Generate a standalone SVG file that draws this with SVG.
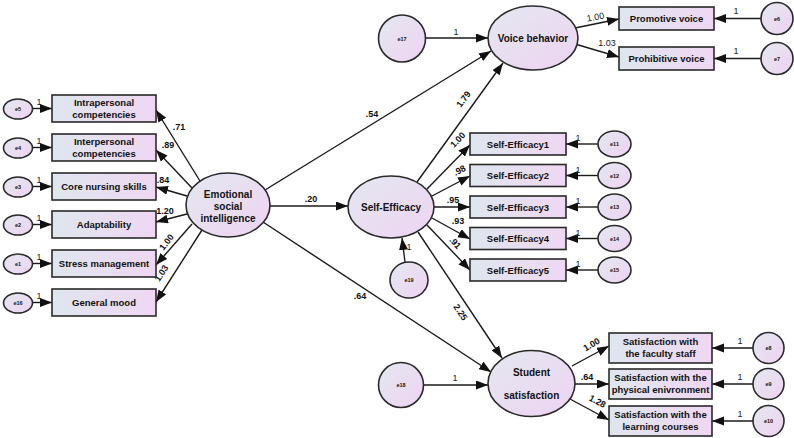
<svg xmlns="http://www.w3.org/2000/svg" width="794" height="438" viewBox="0 0 794 438">
<defs>
<linearGradient id="gb" x1="0" y1="0" x2="1" y2="0"><stop offset="0" stop-color="#dfe6ee"/><stop offset="1" stop-color="#efd7f3"/></linearGradient>
<linearGradient id="ge" x1="0" y1="0" x2="1" y2="1"><stop offset="0" stop-color="#e4e8f0"/><stop offset="1" stop-color="#eed3f2"/></linearGradient>
<marker id="ah" markerUnits="userSpaceOnUse" markerWidth="13" markerHeight="10" refX="12" refY="4.5" orient="auto"><path d="M0,0 L12,4.5 L0,9 z" fill="#111"/></marker>
<style>
.b{fill:url(#gb);stroke:#2a2a2a;stroke-width:1.6}
.e{fill:url(#ge);stroke:#2a2a2a;stroke-width:1.6}
.c line{stroke:#1a1a1a;stroke-width:1.4;marker-end:url(#ah)}
text{font-family:"Liberation Sans",Arial,sans-serif;fill:#111;text-anchor:middle}
.t{font-size:9.5px;font-weight:bold}
.L{font-size:10px;font-weight:bold}
.n{font-size:9px;font-weight:bold}
.o{font-size:9px;fill:#222}
.s{font-size:5.5px;font-weight:bold}
</style>
</defs>
<rect width="794" height="438" fill="#fff"/>
<g class="c" id="connectors">
<line x1="200" y1="181" x2="156" y2="110"/>
<line x1="192" y1="188" x2="156" y2="150"/>
<line x1="187" y1="196" x2="156" y2="187"/>
<line x1="187" y1="214" x2="156" y2="222"/>
<line x1="192" y1="224" x2="156" y2="265"/>
<line x1="202" y1="230" x2="156" y2="302"/>
<line x1="32" y1="108.5" x2="52" y2="108.5"/>
<line x1="32" y1="147.5" x2="52" y2="147.5"/>
<line x1="32" y1="186.5" x2="52" y2="186.5"/>
<line x1="32" y1="224.5" x2="52" y2="224.5"/>
<line x1="32" y1="263.5" x2="52" y2="263.5"/>
<line x1="32" y1="302.5" x2="52" y2="302.5"/>
<line x1="270" y1="206" x2="348" y2="206"/>
<line x1="265" y1="190" x2="491" y2="51"/>
<line x1="263" y1="222" x2="491" y2="372"/>
<line x1="417" y1="182" x2="503" y2="63"/>
<line x1="427" y1="189" x2="470" y2="145"/>
<line x1="432" y1="196" x2="470" y2="176"/>
<line x1="434" y1="207" x2="470" y2="207"/>
<line x1="432" y1="218" x2="470" y2="239"/>
<line x1="427" y1="225" x2="470" y2="270"/>
<line x1="418" y1="232" x2="502" y2="358"/>
<line x1="405" y1="262" x2="402" y2="238"/>
<line x1="598" y1="144" x2="566" y2="144"/>
<line x1="598" y1="175.5" x2="566" y2="175.5"/>
<line x1="598" y1="207" x2="566" y2="207"/>
<line x1="598" y1="238.5" x2="566" y2="238.5"/>
<line x1="598" y1="270" x2="566" y2="270"/>
<line x1="426" y1="38" x2="488" y2="38"/>
<line x1="575" y1="28" x2="619" y2="19"/>
<line x1="575" y1="44" x2="619" y2="57"/>
<line x1="761" y1="18.5" x2="714" y2="18.5"/>
<line x1="761" y1="58.5" x2="714" y2="58.5"/>
<line x1="424" y1="385" x2="488" y2="385"/>
<line x1="572" y1="366" x2="609" y2="346"/>
<line x1="575" y1="384" x2="609" y2="384"/>
<line x1="570" y1="399" x2="609" y2="420"/>
<line x1="753" y1="348" x2="712" y2="348"/>
<line x1="753" y1="384" x2="712" y2="384"/>
<line x1="753" y1="421" x2="712" y2="421"/>
</g>
<g id="path-labels">
<text class="n" x="179" y="130">.71</text>
<text class="n" x="168" y="148">.89</text>
<text class="n" x="163" y="183">.84</text>
<text class="n" x="165" y="214">1.20</text>
<text class="n" transform="translate(169,244) rotate(-52)">1.00</text>
<text class="n" transform="translate(164,275) rotate(-57)">1.03</text>
<text class="o" x="39" y="105">1</text>
<text class="o" x="39" y="144">1</text>
<text class="o" x="39" y="183">1</text>
<text class="o" x="39" y="221">1</text>
<text class="o" x="39" y="260">1</text>
<text class="o" x="39" y="299">1</text>
<text class="n" x="311" y="202">.20</text>
<text class="n" x="372" y="117">.54</text>
<text class="n" x="360" y="299">.64</text>
<text class="n" transform="translate(466,101) rotate(-54)">1.79</text>
<text class="n" transform="translate(460,142) rotate(-46)">1.00</text>
<text class="n" transform="translate(461,173) rotate(-28)">.98</text>
<text class="n" x="453" y="203">.95</text>
<text class="n" x="458" y="224">.93</text>
<text class="n" transform="translate(453,245) rotate(46)">.91</text>
<text class="n" transform="translate(458,314) rotate(56)">2.25</text>
<text class="o" x="409" y="250">1</text>
<text class="o" x="578" y="141">1</text>
<text class="o" x="578" y="172.5">1</text>
<text class="o" x="578" y="204">1</text>
<text class="o" x="578" y="235.5">1</text>
<text class="o" x="578" y="267">1</text>
<text class="o" x="456" y="35">1</text>
<text class="o" transform="translate(596,20) rotate(-10)">1.00</text>
<text class="o" x="607" y="46">1.03</text>
<text class="o" x="736" y="14">1</text>
<text class="o" x="736" y="54">1</text>
<text class="o" x="455" y="381">1</text>
<text class="n" transform="translate(593,347) rotate(-30)">1.00</text>
<text class="n" x="587" y="380">.64</text>
<text class="n" transform="translate(596,404) rotate(28)">1.28</text>
<text class="o" x="740" y="344">1</text>
<text class="o" x="740" y="380">1</text>
<text class="o" x="740" y="417">1</text>
</g>
<g id="n-intra"><rect class="b" x="52" y="95" width="104" height="27"/><text class="t" x="104" y="106">Intrapersonal</text><text class="t" x="104" y="117.5">competencies</text></g>
<g id="n-inter"><rect class="b" x="52" y="134" width="104" height="27"/><text class="t" x="104" y="145">Interpersonal</text><text class="t" x="104" y="156.5">competencies</text></g>
<g id="n-core"><rect class="b" x="52" y="173" width="104" height="27"/><text class="t" x="104" y="190">Core nursing skills</text></g>
<g id="n-adapt"><rect class="b" x="52" y="211" width="104" height="27"/><text class="t" x="104" y="228">Adaptability</text></g>
<g id="n-stress"><rect class="b" x="52" y="250" width="104" height="27"/><text class="t" x="104" y="267">Stress management</text></g>
<g id="n-mood"><rect class="b" x="52" y="289" width="104" height="27"/><text class="t" x="104" y="306">General mood</text></g>
<g id="n-e5"><ellipse class="e" cx="18" cy="109" rx="14.5" ry="10"/><text class="s" x="18" y="111">e5</text></g>
<g id="n-e4"><ellipse class="e" cx="18" cy="148" rx="14.5" ry="10"/><text class="s" x="18" y="150">e4</text></g>
<g id="n-e3"><ellipse class="e" cx="18" cy="187" rx="14.5" ry="10"/><text class="s" x="18" y="189">e3</text></g>
<g id="n-e2"><ellipse class="e" cx="18" cy="225" rx="14.5" ry="10"/><text class="s" x="18" y="227">e2</text></g>
<g id="n-e1"><ellipse class="e" cx="18" cy="264" rx="14.5" ry="10"/><text class="s" x="18" y="266">e1</text></g>
<g id="n-e16"><ellipse class="e" cx="18" cy="303" rx="14.5" ry="10"/><text class="s" x="18" y="305">e16</text></g>
<g id="n-esi"><ellipse class="e" cx="228" cy="205" rx="42" ry="32"/><text class="L" x="228" y="198">Emotional</text><text class="L" x="228" y="210">social</text><text class="L" x="228" y="222">intelligence</text></g>
<g id="n-se"><ellipse class="e" cx="391" cy="207" rx="43" ry="31"/><text class="L" x="391" y="211">Self-Efficacy</text></g>
<g id="n-se1"><rect class="b" x="470" y="133" width="96" height="22"/><text class="t" x="518" y="147.5">Self-Efficacy1</text></g>
<g id="n-se2"><rect class="b" x="470" y="164.5" width="96" height="22"/><text class="t" x="518" y="179">Self-Efficacy2</text></g>
<g id="n-se3"><rect class="b" x="470" y="196" width="96" height="22"/><text class="t" x="518" y="210.5">Self-Efficacy3</text></g>
<g id="n-se4"><rect class="b" x="470" y="227.5" width="96" height="22"/><text class="t" x="518" y="242">Self-Efficacy4</text></g>
<g id="n-se5"><rect class="b" x="470" y="259" width="96" height="22"/><text class="t" x="518" y="273.5">Self-Efficacy5</text></g>
<g id="n-e11"><ellipse class="e" cx="614.5" cy="144" rx="16.5" ry="13"/><text class="s" x="614.5" y="146">e11</text></g>
<g id="n-e12"><ellipse class="e" cx="614.5" cy="175.5" rx="16.5" ry="13"/><text class="s" x="614.5" y="177.5">e12</text></g>
<g id="n-e13"><ellipse class="e" cx="614.5" cy="207" rx="16.5" ry="13"/><text class="s" x="614.5" y="209">e13</text></g>
<g id="n-e14"><ellipse class="e" cx="614.5" cy="238.5" rx="16.5" ry="13"/><text class="s" x="614.5" y="240.5">e14</text></g>
<g id="n-e15"><ellipse class="e" cx="614.5" cy="270" rx="16.5" ry="13"/><text class="s" x="614.5" y="272">e15</text></g>
<g id="n-e19"><ellipse class="e" cx="409" cy="280" rx="19" ry="18"/><text class="s" x="409" y="282">e19</text></g>
<g id="n-voice"><ellipse class="e" cx="533" cy="38" rx="45" ry="32"/><text class="L" x="533" y="42">Voice behavior</text></g>
<g id="n-e17"><circle class="e" cx="402" cy="38.5" r="23.5"/><text class="s" x="402" y="40.5">e17</text></g>
<g id="n-promo"><rect class="b" x="619" y="7" width="95" height="23"/><text class="t" x="666.5" y="22">Promotive voice</text></g>
<g id="n-prohib"><rect class="b" x="619" y="47" width="95" height="23"/><text class="t" x="666.5" y="62">Prohibitive voice</text></g>
<g id="n-e6"><circle class="e" cx="777" cy="18.5" r="16"/><text class="s" x="777" y="20.5">e6</text></g>
<g id="n-e7"><circle class="e" cx="777" cy="58.5" r="16"/><text class="s" x="777" y="60.5">e7</text></g>
<g id="n-stud"><ellipse class="e" cx="531.5" cy="383.5" rx="43.5" ry="33"/><text class="L" x="531.5" y="376">Student</text><text class="L" x="531.5" y="399">satisfaction</text></g>
<g id="n-e18"><circle class="e" cx="401" cy="385" r="22.5"/><text class="s" x="401" y="387">e18</text></g>
<g id="n-sat1"><rect class="b" x="609" y="333" width="103" height="30"/><text class="t" x="660.5" y="345">Satisfaction with</text><text class="t" x="660.5" y="357">the faculty staff</text></g>
<g id="n-sat2"><rect class="b" x="609" y="369" width="103" height="30"/><text class="t" x="660.5" y="381">Satisfaction with the</text><text class="t" x="660.5" y="393">physical enivronment</text></g>
<g id="n-sat3"><rect class="b" x="609" y="406" width="103" height="30"/><text class="t" x="660.5" y="418">Satisfaction with the</text><text class="t" x="660.5" y="430">learning courses</text></g>
<g id="n-e8"><circle class="e" cx="768.5" cy="348" r="15.5"/><text class="s" x="768.5" y="350">e8</text></g>
<g id="n-e9"><circle class="e" cx="768.5" cy="384" r="15.5"/><text class="s" x="768.5" y="386">e9</text></g>
<g id="n-e10"><circle class="e" cx="768.5" cy="421" r="15.5"/><text class="s" x="768.5" y="423">e10</text></g>
</svg>
